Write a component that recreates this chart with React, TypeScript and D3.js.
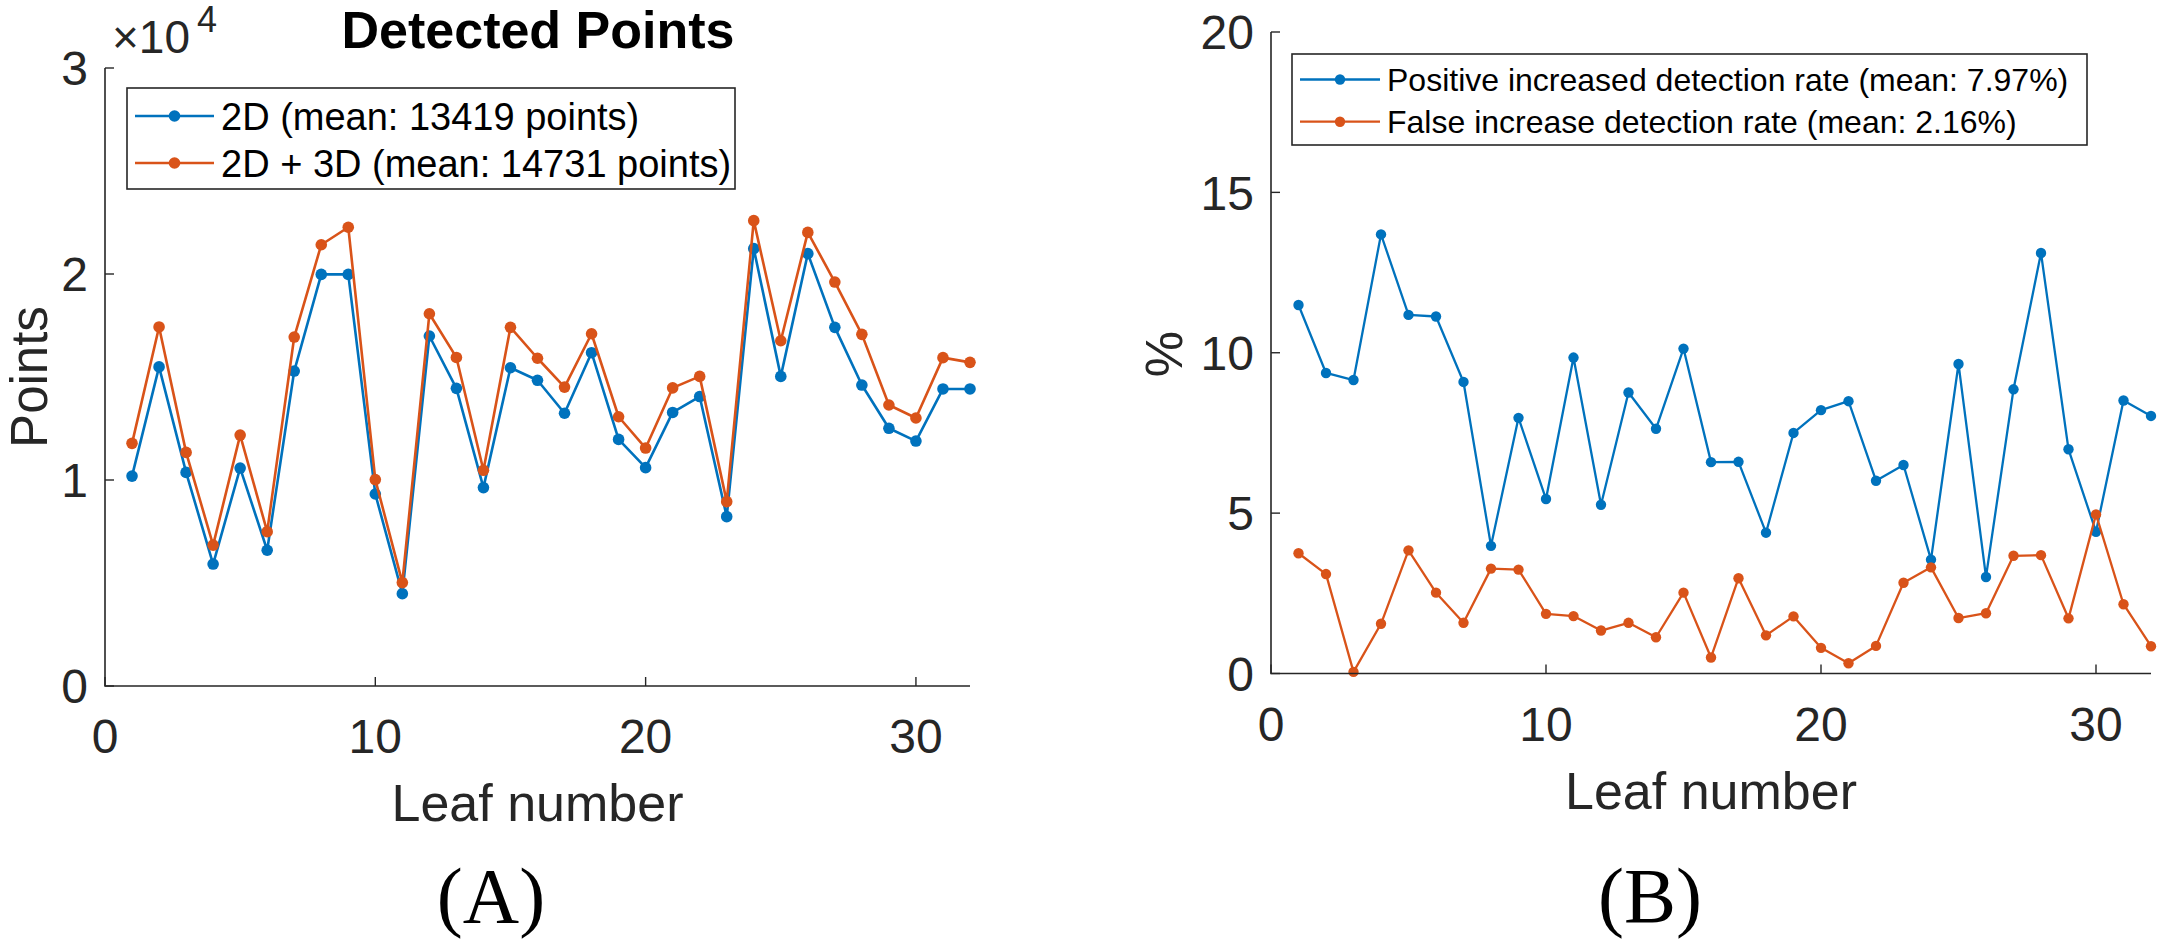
import React from 'react';
import * as d3 from 'd3';

// leaf ids along the x axis
const leaves = [1, 2, 3, 4, 5, 6, 7, 8, 9, 10, 11, 12, 13, 14, 15, 16, 17, 18, 19, 20, 21, 22, 23, 24, 25, 26, 27, 28, 29, 30, 31, 32];

// panel A: detected points per leaf
const points2D = [10190, 15490, 10370, 5920, 10580, 6590, 15290, 19980, 19980, 9320, 4480, 16990, 14450, 9630, 15450, 14840,
  13240, 16180, 11970, 10600, 13280, 14050, 8220, 21230, 15030, 20990, 17410, 14610, 12510, 11890, 14420, 14420];
const points2D3D = [11780, 17430, 11340, 6840, 12180, 7490, 16940, 21420, 22270, 10020, 5020, 18070, 15950, 10470, 17410, 15910,
  14510, 17100, 13070, 11550, 14470, 15030, 8950, 22590, 16760, 22020, 19610, 17070, 13640, 13010, 15940, 15710];

// panel B: detection rates in %
const positiveRate = [11.49, 9.37, 9.15, 13.69, 11.18, 11.13, 9.09, 3.98, 7.97, 5.44, 9.85, 5.26, 8.76, 7.63, 10.13, 6.59,
  6.6, 4.39, 7.5, 8.21, 8.49, 6.01, 6.5, 3.55, 9.65, 3.01, 8.86, 13.11, 6.99, 4.42, 8.51, 8.03];
const falseRate = [3.75, 3.1, 0.05, 1.55, 3.84, 2.52, 1.58, 3.27, 3.24, 1.86, 1.79, 1.34, 1.58, 1.13, 2.52, 0.5,
  2.97, 1.19, 1.78, 0.8, 0.32, 0.86, 2.83, 3.31, 1.73, 1.88, 3.67, 3.69, 1.72, 4.96, 2.16, 0.85];

const xTicks = [0, 10, 20, 30];
const yTicksA = [0, 10000, 20000, 30000];
const yTicksB = [0, 5, 10, 15, 20];

const legendA = ['2D (mean: 13419 points)', '2D + 3D (mean: 14731 points)'];
const legendB = ['Positive increased detection rate (mean: 7.97%)', 'False increase detection rate (mean: 2.16%)'];

const BLUE = '#0072BD';
const ORANGE = '#D95319';
const AX = '#262626';
const SANS = '"Liberation Sans", Arial, sans-serif';
const SERIF = '"Liberation Serif", "Times New Roman", serif';

type Series = { values: number[]; color: string };

const Panel: React.FC<{
  x: d3.ScaleLinear<number, number>;
  y: d3.ScaleLinear<number, number>;
  yTicks: number[];
  yFmt: (v: number) => string;
  series: Series[];
  lineW: number;
  r: number;
  tickFont: number;
}> = ({ x, y, yTicks, yFmt, series, lineW, r, tickFont }) => {
  const [x0, x1] = x.range();
  const [y0, y1] = y.range();
  const line = d3.line<number>().x((_, i) => x(leaves[i])).y(d => y(d));
  return (
    <g>
      {series.map((s, k) => (
        <g key={k}>
          <path d={line(s.values) || ''} fill="none" stroke={s.color} strokeWidth={lineW} strokeLinejoin="round" />
          {s.values.map((v, i) => (
            <circle key={i} cx={x(leaves[i])} cy={y(v)} r={r} fill={s.color} />
          ))}
        </g>
      ))}
      <path d={`M${x0},${y1}V${y0}H${x1}`} fill="none" stroke={AX} strokeWidth={1.6} />
      {xTicks.map(t => (
        <g key={'x' + t}>
          <line x1={x(t)} x2={x(t)} y1={y0} y2={y0 - 9} stroke={AX} strokeWidth={1.4} />
          <text x={x(t)} y={y0 + 67} textAnchor="middle" fontSize={tickFont} fill={AX}>{t}</text>
        </g>
      ))}
      {yTicks.map(t => (
        <g key={'y' + t}>
          <line x1={x0} x2={x0 + 9} y1={y(t)} y2={y(t)} stroke={AX} strokeWidth={1.4} />
          <text x={x0 - 17} y={y(t)} dy="0.36em" textAnchor="end" fontSize={tickFont} fill={AX}>{yFmt(t)}</text>
        </g>
      ))}
      <text x={(x0 + x1) / 2} y={y0 + 135} textAnchor="middle" fontSize={52} fill={AX}>Leaf number</text>
    </g>
  );
};

const Legend: React.FC<{
  box: [number, number, number, number];
  rows: number[];
  lineX: [number, number];
  textX: number;
  labels: string[];
  colors: string[];
  font: number;
  lineW: number;
  r: number;
}> = ({ box, rows, lineX, textX, labels, colors, font, lineW, r }) => (
  <g>
    <rect x={box[0]} y={box[1]} width={box[2] - box[0]} height={box[3] - box[1]} fill="#fff" stroke={AX} strokeWidth={1.6} />
    {labels.map((lab, i) => (
      <g key={i}>
        <line x1={lineX[0]} x2={lineX[1]} y1={rows[i]} y2={rows[i]} stroke={colors[i]} strokeWidth={lineW} />
        <circle cx={(lineX[0] + lineX[1]) / 2} cy={rows[i]} r={r} fill={colors[i]} />
        <text x={textX} y={rows[i]} dy="0.36em" fontSize={font} fill="#000">{lab}</text>
      </g>
    ))}
  </g>
);

export default function App() {
  const xA = d3.scaleLinear().domain([0, 32]).range([105, 970]);
  const yA = d3.scaleLinear().domain([0, 30000]).range([686, 68]);
  const xB = d3.scaleLinear().domain([0, 32]).range([1271, 2151]);
  const yB = d3.scaleLinear().domain([0, 20]).range([673.5, 32]);

  return (
    <svg width={2160} height={944} viewBox="0 0 2160 944"
      style={{ position: 'absolute', left: 0, top: 0, background: '#fff', fontFamily: SANS }}>
      <rect width={2160} height={944} fill="#fff" />

      {/* panel A */}
      <Panel x={xA} y={yA} yTicks={yTicksA} yFmt={v => String(v / 10000)}
        series={[{ values: points2D, color: BLUE }, { values: points2D3D, color: ORANGE }]}
        lineW={2.6} r={5.8} tickFont={48} />
      <text x={538} y={48} textAnchor="middle" fontSize={52} fontWeight="bold" fill="#000">Detected Points</text>
      <text x={112} y={53} fontSize={46} fill={AX}>×10</text>
      <text x={197} y={32} fontSize={36} fill={AX}>4</text>
      <text transform="translate(47,377) rotate(-90)" textAnchor="middle" fontSize={51} fill={AX}>Points</text>
      <Legend box={[127, 88, 735, 189]} rows={[116, 163]} lineX={[135, 214]} textX={221}
        labels={legendA} colors={[BLUE, ORANGE]} font={38} lineW={2.6} r={5.8} />
      <text x={491} y={922} textAnchor="middle" fontSize={78} fontFamily={SERIF} fill="#000">(A)</text>

      {/* panel B */}
      <Panel x={xB} y={yB} yTicks={yTicksB} yFmt={v => String(v)}
        series={[{ values: positiveRate, color: BLUE }, { values: falseRate, color: ORANGE }]}
        lineW={2.3} r={5.2} tickFont={48} />
      <text transform="translate(1182,354) rotate(-90)" textAnchor="middle" fontSize={52} fill={AX}>%</text>
      <Legend box={[1292, 54, 2087, 145]} rows={[79.5, 121.7]} lineX={[1300, 1380]} textX={1387}
        labels={legendB} colors={[BLUE, ORANGE]} font={32} lineW={2.3} r={5.2} />
      <text x={1650} y={922} textAnchor="middle" fontSize={78} fontFamily={SERIF} fill="#000">(B)</text>
    </svg>
  );
}
